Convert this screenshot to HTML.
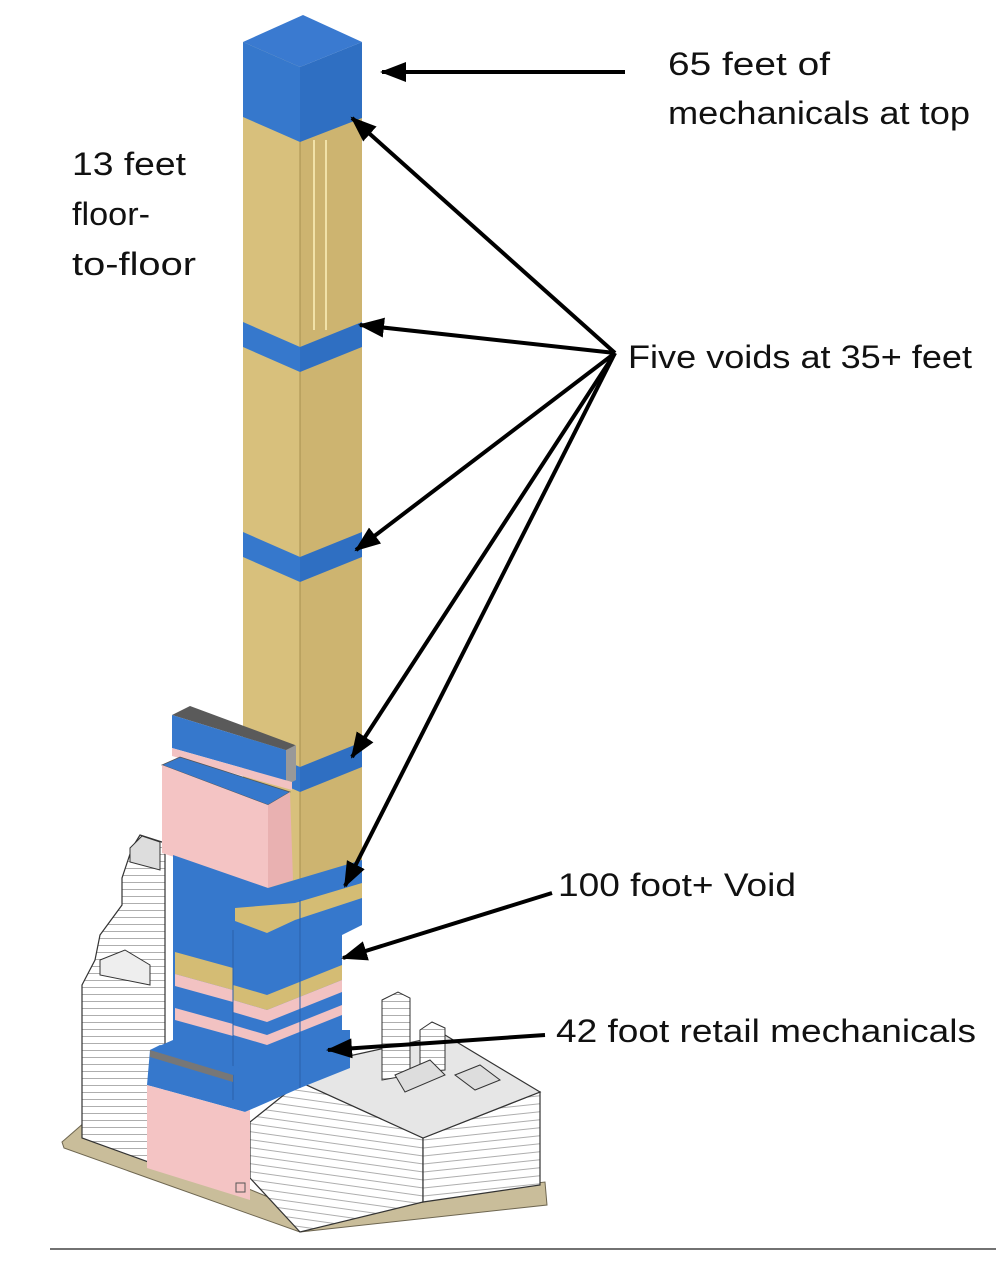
<!DOCTYPE html>
<html><head><meta charset="utf-8"><style>
html,body{margin:0;padding:0;background:#fff;}
svg{display:block;}
text{font-family:"Liberation Sans",sans-serif;font-size:32px;fill:#111;}
</style></head><body>
<svg width="996" height="1262" viewBox="0 0 996 1262" xmlns="http://www.w3.org/2000/svg">
<defs>
<pattern id="h" width="8" height="7" patternUnits="userSpaceOnUse">
<rect width="8" height="7" fill="#fff"/>
<line x1="0" y1="0.5" x2="8" y2="0.5" stroke="#999" stroke-width="0.8"/>
</pattern>
<pattern id="h2" width="8" height="8" patternUnits="userSpaceOnUse" patternTransform="skewY(-6)">
<rect width="8" height="8" fill="#fff"/>
<line x1="0" y1="0.5" x2="8" y2="0.5" stroke="#999" stroke-width="0.8"/>
</pattern>
<pattern id="h3" width="8" height="8" patternUnits="userSpaceOnUse" patternTransform="skewY(8)">
<rect width="8" height="8" fill="#fff"/>
<line x1="0" y1="0.5" x2="8" y2="0.5" stroke="#999" stroke-width="0.8"/>
</pattern>
<marker id="a" markerWidth="26" markerHeight="20" refX="24" refY="10" orient="auto" markerUnits="userSpaceOnUse" viewBox="0 0 26 20">
<path d="M0,0 L26,10 L0,20 Z" fill="#000"/>
</marker>
<clipPath id="mass"><polygon points="173,855 268,888 362,860 362,925 342,935 342,1030 350,1030 350,1068 300,1088 245,1112 147,1085 150,1050 173,1040"/></clipPath>
</defs>

<polygon points="62,1142 85,1122 300,1210 545,1182 547,1205 300,1232 64,1148" fill="#c9bd9a" stroke="#6e6650" stroke-width="1"/>

<polygon points="82,1138 82,985 95,960 100,935 122,905 122,878 132,848 140,835 165,843 165,1168" fill="url(#h)" stroke="#333" stroke-width="1.2"/>
<polygon points="130,848 142,836 160,842 160,870 130,862" fill="#ddd" stroke="#333"/>
<polygon points="100,960 125,950 150,965 150,985 100,975" fill="#eee" stroke="#333"/>

<polygon points="250,1122 300,1082 423,1138 423,1202 300,1232 250,1178" fill="url(#h3)" stroke="#333" stroke-width="1.2"/>
<polygon points="423,1138 540,1092 540,1185 423,1202" fill="url(#h2)" stroke="#333" stroke-width="1.2"/>
<polygon points="300,1082 340,1058 445,1035 540,1092 423,1138" fill="#e6e6e6" stroke="#333" stroke-width="1.2"/>
<polygon points="382,1000 398,992 410,998 410,1075 382,1080" fill="url(#h)" stroke="#333"/>
<polygon points="420,1030 432,1022 445,1028 445,1070 420,1072" fill="url(#h)" stroke="#333"/>
<polygon points="395,1075 430,1060 445,1075 405,1092" fill="#ddd" stroke="#333"/>
<polygon points="455,1075 480,1065 500,1080 475,1090" fill="#ddd" stroke="#333"/>

<polygon points="243,42 300,67 300,900 243,880" fill="#d8c07c"/>
<polygon points="300,67 362,44 362,880 300,900" fill="#cdb470"/>
<line x1="300" y1="67" x2="300" y2="900" stroke="#a8904f" stroke-width="1"/>
<line x1="314" y1="140" x2="314" y2="330" stroke="#f1e2a8" stroke-width="2"/>
<line x1="326" y1="140" x2="326" y2="330" stroke="#f1e2a8" stroke-width="2"/>
<polygon points="243,42 303,15 362,42 300,67" fill="#3a7ad0"/>
<polygon points="243,42 300,67 300,142 243,117" fill="#3678cc"/>
<polygon points="300,67 362,42 362,118 300,142" fill="#2f6fc2"/>
<polygon points="243,322 300,347 300,372 243,347" fill="#3678cc"/>
<polygon points="300,347 362,322 362,347 300,372" fill="#2f6fc2"/>
<polygon points="243,532 300,557 300,582 243,557" fill="#3678cc"/>
<polygon points="300,557 362,532 362,557 300,582" fill="#2f6fc2"/>
<polygon points="243,742 300,767 300,792 243,767" fill="#3678cc"/>
<polygon points="300,767 362,742 362,767 300,792" fill="#2f6fc2"/>

<polygon points="172,715 190,706 295,745 292,752" fill="#5a5a5a"/>
<polygon points="172,715 292,752 292,782 172,748" fill="#3678cc"/>
<polygon points="286,750 296,745 296,780 286,785" fill="#999"/>
<polygon points="172,748 292,782 292,790 172,756" fill="#f2c2c2"/>
<polygon points="162,765 180,757 290,792 268,805" fill="#3678cc" stroke="#555" stroke-width="0.8"/>
<polygon points="162,765 268,805 268,888 162,853" fill="#f4c4c4"/>
<polygon points="268,805 290,792 293,880 268,888" fill="#e9b1b1"/>

<g clip-path="url(#mass)">
<rect x="140" y="840" width="230" height="290" fill="#3678cc"/>
<polygon points="235,908 295,903 362,883 362,898 295,920 267,933 235,921" fill="#d4bc74"/>
<polygon points="175,952 233,968 233,990 175,974" fill="#d4bc74"/>
<polygon points="175,974 233,990 233,1002 175,986" fill="#f2c2c2"/>
<polygon points="175,1008 233,1024 233,1036 175,1020" fill="#f2c2c2"/>
<polygon points="233,985 267,995 342,965 342,980 267,1010 233,1000" fill="#d4bc74"/>
<polygon points="233,1000 267,1010 342,980 342,992 267,1022 233,1012" fill="#f2c2c2"/>
<polygon points="233,1025 267,1035 342,1005 342,1015 267,1045 233,1035" fill="#f2c2c2"/>
<line x1="300" y1="900" x2="300" y2="1088" stroke="#2a60aa" stroke-width="1"/>
<line x1="233" y1="930" x2="233" y2="1100" stroke="#2a60aa" stroke-width="1"/>
</g>
<polygon points="150,1050 160,1045 240,1068 233,1075" fill="#3678cc"/>
<polygon points="150,1050 233,1075 233,1082 150,1057" fill="#777"/>
<polygon points="147,1085 245,1112 250,1110 250,1200 147,1168" fill="#f4c4c4"/>
<rect x="236" y="1183" width="9" height="9" fill="none" stroke="#555" stroke-width="1"/>

<g stroke="#000" stroke-width="4" fill="none" marker-end="url(#a)">
<line x1="625" y1="72" x2="382" y2="72"/>
<line x1="615" y1="353" x2="352" y2="118"/>
<line x1="615" y1="353" x2="360" y2="325"/>
<line x1="615" y1="353" x2="356" y2="550"/>
<line x1="615" y1="353" x2="352" y2="757"/>
<line x1="615" y1="353" x2="345" y2="886"/>
<line x1="552" y1="893" x2="343" y2="958"/>
<line x1="545" y1="1035" x2="328" y2="1050"/>
</g>

<text x="668" y="75" textLength="162" lengthAdjust="spacingAndGlyphs">65 feet of</text>
<text x="668" y="124" textLength="302" lengthAdjust="spacingAndGlyphs">mechanicals at top</text>
<text x="72" y="175" textLength="114" lengthAdjust="spacingAndGlyphs">13 feet</text>
<text x="72" y="225" textLength="78" lengthAdjust="spacingAndGlyphs">floor-</text>
<text x="72" y="275" textLength="124" lengthAdjust="spacingAndGlyphs">to-floor</text>
<text x="628" y="368" textLength="344" lengthAdjust="spacingAndGlyphs">Five voids at 35+ feet</text>
<text x="558" y="896" textLength="238" lengthAdjust="spacingAndGlyphs">100 foot+ Void</text>
<text x="556" y="1042" textLength="420" lengthAdjust="spacingAndGlyphs">42 foot retail mechanicals</text>

<line x1="50" y1="1249" x2="996" y2="1249" stroke="#444" stroke-width="1.5"/>
</svg>
</body></html>
